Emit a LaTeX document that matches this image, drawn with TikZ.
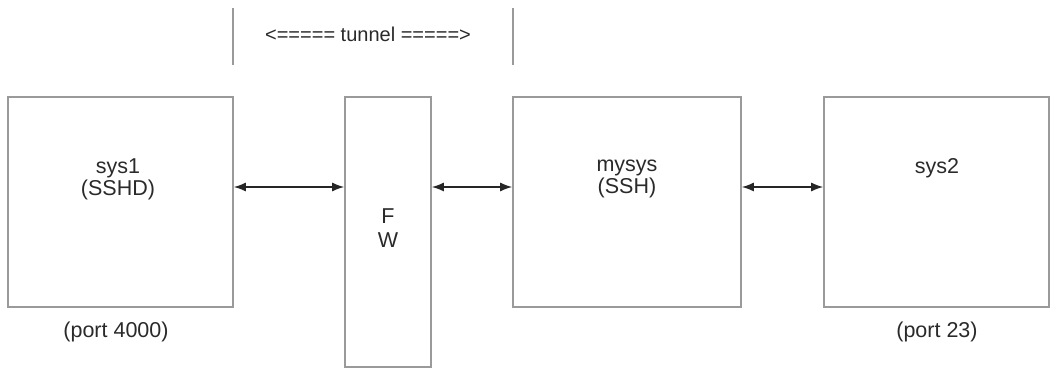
\documentclass[tikz,border=0pt]{standalone}
\usepackage{fontspec}
\setmainfont{Liberation Sans}
\usetikzlibrary{arrows.meta}
\definecolor{boxgray}{HTML}{9A9A9A}
\definecolor{txt}{HTML}{2A2A2A}
\begin{document}
\begin{tikzpicture}[x=1pt,y=1pt,
  sysbox/.style={draw=boxgray,line width=1.7pt,fill=white,inner sep=0pt},
  lbl/.style={text=txt,font=\fontsize{21.5}{22}\selectfont,inner sep=0pt,align=center},
  link/.style={{Latex[length=12pt,width=9pt]}-{Latex[length=12pt,width=9pt]},line width=1.3pt,black!85},
  divider/.style={draw=boxgray,line width=1.7pt}]
\useasboundingbox (0,0) rectangle (1055,367);
\fill[white] (0,0) rectangle (1055,367);
% boxes
\node[sysbox,minimum width=225pt,minimum height=210pt] (sys1) at (120.5,165) {};
\node[sysbox,minimum width=86pt,minimum height=270pt] (fw) at (388,135) {};
\node[sysbox,minimum width=228pt,minimum height=210pt] (mysys) at (627,165) {};
\node[sysbox,minimum width=225pt,minimum height=210pt] (sys2) at (936.5,165) {};
% texts
\node[lbl] (t1) at (118,188) {sys1\\(SSHD)};
\node[lbl] (tfw) at (388,139) {F\\[2pt]W};
\node[lbl] (tm) at (627,188) {mysys\\(SSH)};
\node[lbl] (t2) at (937,199) {sys2};
\node[lbl] (p1) at (116,35) {(port 4000)};
\node[lbl] (p2) at (937,35) {(port 23)};
\node[lbl,font=\fontsize{20}{20}\selectfont] (tun) at (368,333) {<===== tunnel =====>};
% dividers
\coordinate (d1a) at (233,359);
\coordinate (d1b) at (233,302);
\coordinate (d2a) at (513,359);
\coordinate (d2b) at (513,302);
\draw[divider] (d1a) -- (d1b);
\draw[divider] (d2a) -- (d2b);
% connectors
\coordinate (ay) at (0,180);
\draw[link] (sys1.east |- ay) -- (fw.west |- ay);
\draw[link] (fw.east |- ay) -- (mysys.west |- ay);
\draw[link] (mysys.east |- ay) -- (sys2.west |- ay);
\end{tikzpicture}
\end{document}
